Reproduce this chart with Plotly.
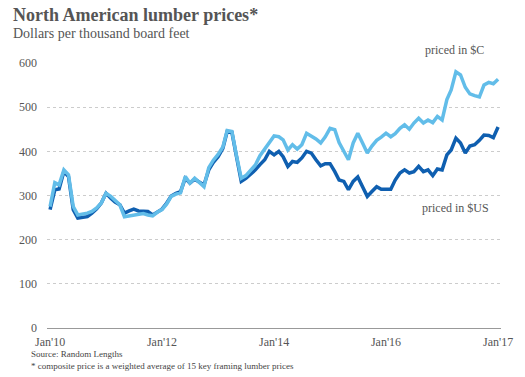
import pandas as pd
import plotly.graph_objects as go

# Monthly composite framing lumber price, Jan 2010 - Jan 2018
months = pd.date_range("2010-01-01", "2018-01-01", freq="MS")

price_usd = [
    268, 313, 315, 354, 343, 268, 249, 250, 252, 260, 270, 283,
    305, 294, 285, 279, 260, 265, 269, 265, 265, 264, 256, 262,
    269, 283, 299, 305, 309, 339, 328, 337, 330, 324, 358, 375,
    388, 407, 445, 443, 388, 332, 339, 348, 358, 370, 381, 400,
    392, 400, 388, 366, 377, 375, 385, 400, 396, 381, 367, 372,
    372, 354, 335, 332, 313, 332, 342, 320, 298, 309, 320, 314,
    314, 314, 335, 351, 358, 351, 354, 366, 354, 358, 345, 360,
    358, 392, 403, 430, 419, 396, 412, 415, 425, 437, 436, 431,
    455,
]

price_cad = [
    275, 329, 324, 358, 347, 275, 256, 258, 260, 264, 272, 283,
    305, 298, 288, 279, 252, 254, 256, 259, 259, 256, 254, 262,
    268, 281, 298, 303, 306, 343, 328, 339, 330, 320, 363, 380,
    393, 410, 447, 445, 390, 339, 345, 357, 369, 390, 405, 419,
    435, 433, 426, 403, 415, 405, 415, 441, 435, 428, 419, 433,
    452, 449, 420, 400, 381, 419, 441, 419, 396, 412, 425, 432,
    441, 433, 440, 452, 460, 450, 464, 475, 464, 471, 465, 479,
    471, 517, 539, 580, 573, 545, 530, 526, 523, 550, 556, 553,
    563,
]

tick_dates = ["2010-01-01", "2012-01-01", "2014-01-01", "2016-01-01", "2018-01-01"]
tick_labels = ["Jan'10", "Jan'12", "Jan'14", "Jan'16", "Jan'17"]
y_ticks = [0, 100, 200, 300, 400, 500, 600]

DARK = "#0f5fb0"
LIGHT = "#62bde9"
SERIF = "Georgia, 'Liberation Serif', 'DejaVu Serif', serif"

fig = go.Figure()
fig.add_trace(go.Scatter(
    x=months, y=price_usd, mode="lines", name="priced in $US",
    line=dict(color=DARK, width=3.5), hoverinfo="x+y",
))
fig.add_trace(go.Scatter(
    x=months, y=price_cad, mode="lines", name="priced in $C",
    line=dict(color=LIGHT, width=3.5), hoverinfo="x+y",
))

fig.update_layout(
    width=525, height=377,
    margin=dict(l=47, r=22, t=63, b=49),
    paper_bgcolor="white", plot_bgcolor="white",
    showlegend=False,
    font=dict(family=SERIF, color="#555555"),
)

fig.update_xaxes(
    type="date",
    range=["2009-12-12", "2018-01-20"],
    tickvals=tick_dates, ticktext=tick_labels,
    showgrid=False, zeroline=False, showline=False, ticks="",
    ticklabelstandoff=5,
    tickfont=dict(size=12, color="#555555", family=SERIF),
)
fig.update_yaxes(
    range=[0, 600], tickvals=y_ticks,
    showgrid=True, gridcolor="#cccccc", griddash="3px,3px", gridwidth=1,
    zeroline=True, zerolinecolor="#999999", zerolinewidth=1,
    ticks="", ticklabelstandoff=9,
    tickfont=dict(size=12, color="#555555", family=SERIF),
)

# Title block
fig.add_annotation(
    text="<b>North American lumber prices*</b>", xref="paper", yref="paper",
    x=0, y=1, xanchor="left", yanchor="bottom",
    font=dict(size=18, color="#555555", family=SERIF), showarrow=False,
    xshift=-36, yshift=36,
)
fig.add_annotation(
    text="Dollars per thousand board feet", xref="paper", yref="paper",
    x=0, y=1, xanchor="left", yanchor="bottom",
    font=dict(size=14, color="#555555", family=SERIF), showarrow=False,
    xshift=-36, yshift=20,
)

# Series labels
fig.add_annotation(
    text="priced in $C", x="2017-03-20", y=1, xref="x", yref="paper",
    yanchor="middle", yshift=13,
    showarrow=False, font=dict(size=12, color="#555555", family=SERIF),
)
fig.add_annotation(
    text="priced in $US", x="2017-04-01", y=272, xref="x", yref="y",
    showarrow=False, font=dict(size=12, color="#555555", family=SERIF),
)

# Footnotes
fig.add_annotation(
    text="Source: Random Lengths<br>* composite price is a weighted average of 15 key framing lumber prices",
    xref="paper", yref="paper", x=0, y=0, xanchor="left", yanchor="top",
    align="left", showarrow=False,
    font=dict(size=9, color="#444444", family=SERIF),
    xshift=-18, yshift=-19,
)

fig.write_html("out.html")
